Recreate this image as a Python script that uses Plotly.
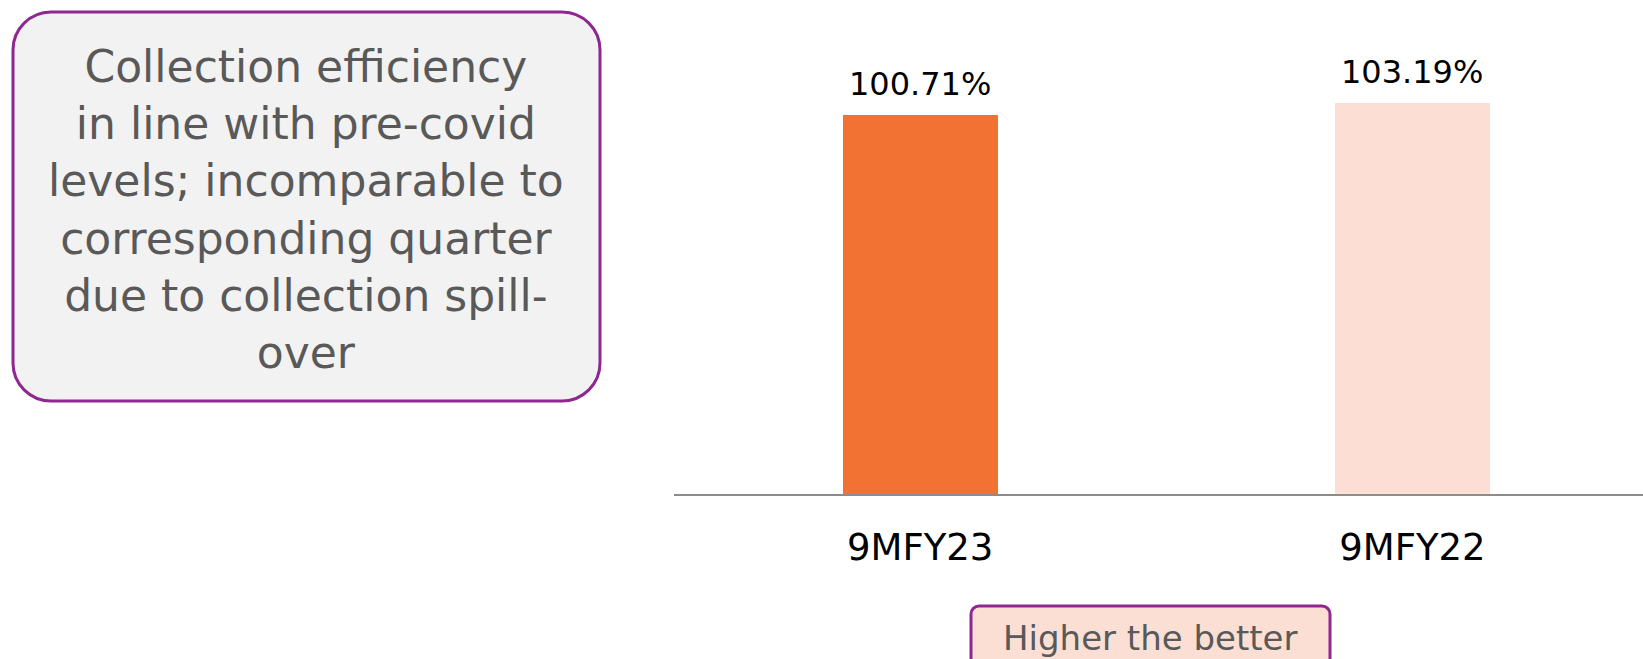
import plotly.graph_objects as go

categories = ["9MFY23", "9MFY22"]
values = [100.71, 103.19]
bar_colors = ["#F27234", "#FCDED4"]
value_labels = [f"{v:.2f}%" for v in values]

note_lines = [
    "Collection efficiency",
    "in line with pre-covid",
    "levels; incomparable to",
    "corresponding quarter",
    "due to collection spill-",
    "over",
]
footer_text = "Higher the better"

FONT = "DejaVu Sans"
W, H = 1643, 659
M_L, M_R, M_T, M_B = 674, 0, 20, 165
PW, PH = W - M_L - M_R, H - M_T - M_B


def xp(px):
    return (px - M_L) / PW


def yp(py):
    return (H - M_B - py) / PH


def rounded_rect(x0, y0, x1, y1, r):
    # pixel box (y down) -> svg path in paper coords, cubic corners
    k = 0.4477 * r
    pts = [
        ("M", [(x0 + r, y0)]),
        ("L", [(x1 - r, y0)]),
        ("C", [(x1 - k, y0), (x1, y0 + k), (x1, y0 + r)]),
        ("L", [(x1, y1 - r)]),
        ("C", [(x1, y1 - k), (x1 - k, y1), (x1 - r, y1)]),
        ("L", [(x0 + r, y1)]),
        ("C", [(x0 + k, y1), (x0, y1 - k), (x0, y1 - r)]),
        ("L", [(x0, y0 + r)]),
        ("C", [(x0, y0 + k), (x0 + k, y0), (x0 + r, y0)]),
    ]
    out = ""
    for cmd, ps in pts:
        out += cmd + " " + " ".join(f"{xp(a):.5f},{yp(b):.5f}" for a, b in ps) + " "
    return out + "Z"


fig = go.Figure()

fig.add_trace(
    go.Bar(
        x=categories,
        y=values,
        marker=dict(color=bar_colors, line=dict(width=0)),
        width=0.315,
        hoverinfo="skip",
    )
)

for cat, val, lab in zip(categories, values, value_labels):
    fig.add_annotation(
        x=cat,
        y=val,
        text=lab,
        showarrow=False,
        yanchor="bottom",
        yshift=10,
        font=dict(family=FONT, size=32, color="#000000"),
    )

# left note box
fig.add_shape(
    type="path",
    xref="paper",
    yref="paper",
    path=rounded_rect(13, 12, 600, 401, 38),
    fillcolor="#F2F2F2",
    line=dict(color="#8E278F", width=3),
    layer="below",
)
fig.add_annotation(
    xref="paper",
    yref="paper",
    x=xp(306),
    y=yp(209),
    text="<br>".join(note_lines),
    showarrow=False,
    align="center",
    xanchor="center",
    yanchor="middle",
    font=dict(family=FONT, size=44, color="#595959"),
)

# footer badge
fig.add_shape(
    type="path",
    xref="paper",
    yref="paper",
    path=rounded_rect(971, 606, 1330, 700, 8),
    fillcolor="#FCDFD4",
    line=dict(color="#8E278F", width=3),
    layer="below",
)
fig.add_annotation(
    xref="paper",
    yref="paper",
    x=xp(1150),
    y=yp(638),
    text=footer_text,
    showarrow=False,
    xanchor="center",
    yanchor="middle",
    font=dict(family=FONT, size=34, color="#595959"),
)

fig.update_layout(
    width=W,
    height=H,
    margin=dict(l=M_L, r=M_R, t=M_T, b=M_B),
    plot_bgcolor="white",
    paper_bgcolor="white",
    showlegend=False,
    bargap=0,
    xaxis=dict(
        type="category",
        range=[-0.5, -0.5 + PW / 492.3],
        showline=True,
        linecolor="#8C8C8C",
        linewidth=2,
        showgrid=False,
        zeroline=False,
        ticks="",
        ticklabelstandoff=20,
        tickfont=dict(family=FONT, size=37, color="#000000"),
    ),
    yaxis=dict(
        range=[24.3, 24.3 + PH / 4.96],
        visible=False,
        showgrid=False,
        zeroline=False,
    ),
)

# drop the default page margin so the figure sits at the window's corner
fig.write_html(
    "out.html",
    config={"displayModeBar": False},
    post_script="document.body.style.margin='0px';",
)
